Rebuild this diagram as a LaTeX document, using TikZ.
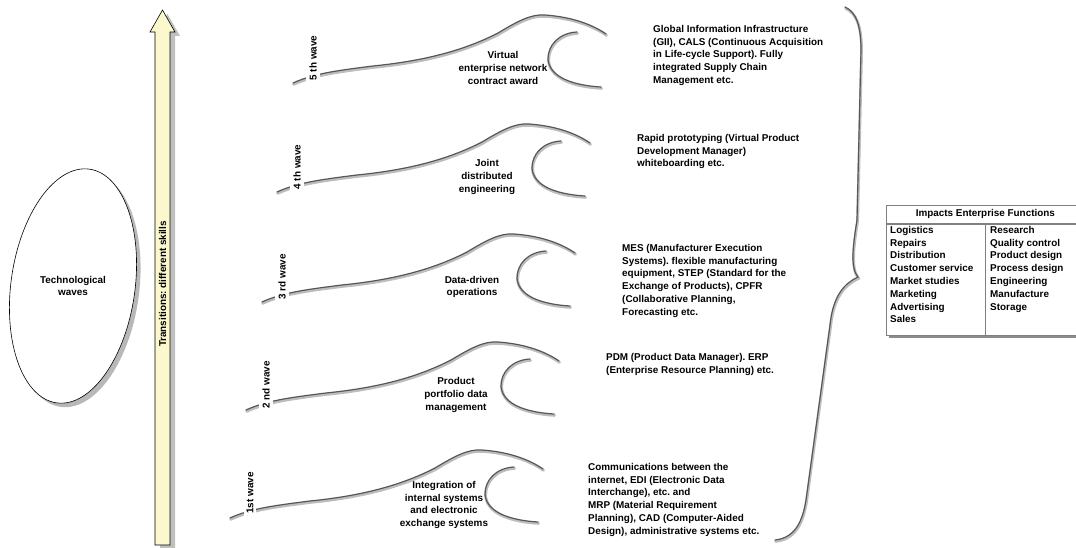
\documentclass[tikz,border=0pt]{standalone}
\usepackage{fontspec}
\setmainfont{Liberation Sans}
\frenchspacing
\begin{document}
\begin{tikzpicture}[x=1pt,y=-1pt,
  every node/.style={font=\fontsize{9.9}{12.8}\selectfont\bfseries\frenchspacing, inner sep=0pt},
  hookshadow/.style={draw=black!26, line width=2.8pt, line cap=round, shift={(0.6,1.4)}},
  hookline/.style={draw=black!66, line width=1.2pt, line cap=round},
  wavelabel/.style={rotate=90, fill=white, inner xsep=4pt, inner ysep=3pt},
  midtext/.style={align=center},
  righttext/.style={align=left, anchor=north west},
  tableframe/.style={draw=black!50, line width=0.7pt, fill=white},
  pics/wavehook/.style={code={
    \foreach \st in {hookshadow,hookline}{
      \draw[\st] (0,0) .. controls (20,-9) and (40,-12) .. (80,-17)
        .. controls (130,-22) and (170,-32) .. (205,-50)
        .. controls (225,-62) and (238,-69) .. (252,-68)
        .. controls (280,-66) and (300,-58) .. (313,-49);
      \draw[\st] (284,-51) .. controls (266,-50) and (255,-38) .. (255,-24)
        .. controls (256,-8) and (275,2) .. (308,4);
    }
  }}]
\definecolor{arrowfill}{RGB}{251,248,205}
\useasboundingbox (0,0) rectangle (1076,548);
\clip (0,0) rectangle (1076,548);

% ellipse with drop shadow
\fill[black!28, rotate around={-8:(77,290)}] (77,290) ellipse [x radius=62, y radius=118];
\draw[fill=white, line width=0.6pt, rotate around={-8:(73,286)}] (73,286) ellipse [x radius=62, y radius=118];
\node[align=center] (tech) at (73,286) {Technological\\waves};

% vertical arrow with drop shadow
\fill[black!25] (160,549) -- (160,36) -- (155,36) -- (167.5,14) -- (180,36) -- (175,36) -- (175,549) -- cycle;
\draw[fill=arrowfill, line width=0.6pt] (155,545) -- (155,32) -- (150,32) -- (162.5,10) -- (175,32) -- (170,32) -- (170,545) -- cycle;
\node[rotate=90] (trans) at (162.5,284) {Transitions: different skills};

% 5th wave
\begin{scope}[shift={(293,83)}]
  \pic {wavehook};
  \node[wavelabel] (w5) at (20,-25) {5 th wave};
  \node[midtext] (m5) at (210,-15) {Virtual\\enterprise network\\contract award};
  \node[righttext] (r5) at (360,-58) {Global Information Infrastructure\\(GII), CALS (Continuous Acquisition\\in Life-cycle Support). Fully\\integrated Supply Chain\\Management etc.};
\end{scope}

% 4th wave
\begin{scope}[shift={(277,192)}]
  \pic {wavehook};
  \node[wavelabel] (w4) at (20,-25) {4 th wave};
  \node[midtext] (m4) at (210,-15) {Joint\\distributed\\engineering};
  \node[righttext] (r4) at (360,-58) {Rapid prototyping (Virtual Product\\Development Manager)\\whiteboarding etc.};
\end{scope}

% 3rd wave
\begin{scope}[shift={(262,302)}]
  \pic {wavehook};
  \node[wavelabel] (w3) at (20,-25) {3 rd wave};
  \node[midtext] (m3) at (210,-15) {Data-driven\\operations};
  \node[righttext] (r3) at (360,-58) {MES (Manufacturer Execution\\Systems). flexible manufacturing\\equipment, STEP (Standard for the\\Exchange of Products), CPFR\\(Collaborative Planning,\\Forecasting etc.};
\end{scope}

% 2nd wave
\begin{scope}[shift={(246,410)}]
  \pic {wavehook};
  \node[wavelabel] (w2) at (20,-25) {2 nd wave};
  \node[midtext] (m2) at (210,-15) {Product\\portfolio data\\management};
  \node[righttext] (r2) at (360,-57) {PDM (Product Data Manager). ERP\\(Enterprise Resource Planning) etc.};
\end{scope}

% 1st wave
\begin{scope}[shift={(230,518)}]
  \pic {wavehook};
  \node[wavelabel] (w1) at (20,-25) {1st wave};
  \node[midtext] (m1) at (214,-13) {Integration of\\internal systems\\and electronic\\exchange systems};
  \node[righttext] (r1) at (358,-55) {Communications between the\\internet, EDI (Electronic Data\\Interchange), etc. and\\MRP (Material Requirement\\Planning), CAD (Computer-Aided\\Design), administrative systems etc.};
\end{scope}

% large brace gathering all waves
\foreach \st in {hookshadow,hookline}{
  \draw[\st] (845,7) .. controls (856,12) and (861,25) .. (861,50) -- (857,220)
    .. controls (853,245) and (850,268) .. (858,277)
    .. controls (845,283) and (833,295) .. (830,325) -- (806,500)
    .. controls (802,525) and (793,538) .. (775,540);
}

% enterprise functions table
\fill[black!45] (889,228) rectangle (1087,338);
\node[tableframe, anchor=north west, minimum width=198pt, minimum height=18pt] (thead) at (886,205) {Impacts Enterprise Functions};
\node[tableframe, anchor=north west, minimum width=198pt, minimum height=111pt] (tbody) at (886,224) {};
\draw[black!50, line width=0.7pt] (tbody.north west) ++(99,0) -- ++(0,111);
\node[righttext] (col1) at (890,226) {Logistics\\Repairs\\Distribution\\Customer service\\Market studies\\Marketing\\Advertising\\Sales};
\node[righttext] (col2) at (990,226) {Research\\Quality control\\Product design\\Process design\\Engineering\\Manufacture\\Storage};
\end{tikzpicture}
\end{document}
